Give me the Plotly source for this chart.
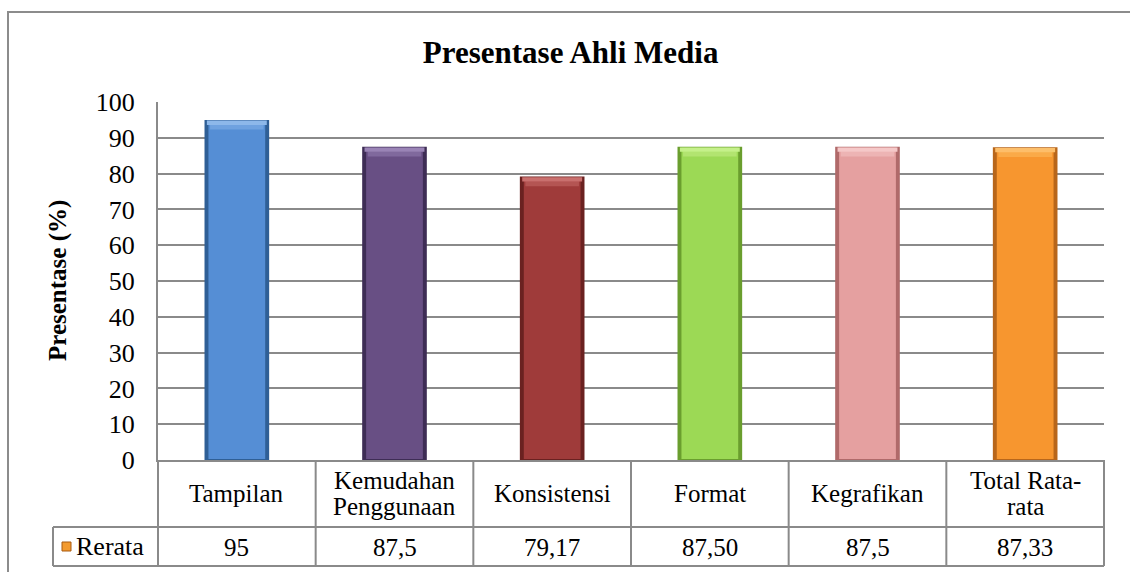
import plotly.graph_objects as go

categories = ["Tampilan", "Kemudahan<br>Penggunaan", "Konsistensi", "Format", "Kegrafikan", "Total Rata-<br>rata"]
values = [95, 87.5, 79.17, 87.5, 87.5, 87.33]
value_labels = ["95", "87,5", "79,17", "87,50", "87,5", "87,33"]
series_name = "Rerata"
bar_colors = ["#558ED5", "#684F84", "#9F3B3A", "#9CD955", "#E5A0A0", "#F7962F"]
edge_colors = ["#2F5F96", "#3E2D55", "#6A2120", "#6A9E2E", "#B06A6A", "#B8661A"]
top_colors = ["#8DB8EA", "#9A84B6", "#C9706E", "#C5F08A", "#F5C8C8", "#FDBE6A"]
mid_colors = ["#6FA2E0", "#80699D", "#B45553", "#B2E470", "#EDB4B4", "#FAAA48"]
y_ticks = [0, 10, 20, 30, 40, 50, 60, 70, 80, 90, 100]

W, H = 1130, 572
L, R, T, B = 158, 1104, 102, 460

def px_x(p):
    return (p - L) / (R - L)

def px_y(p):
    return (B - p) / (B - T)

FONT = "Liberation Serif"
GRID = "#8A8A8A"
n = len(categories)
xs = list(range(n))

fig = go.Figure()
# outer (edge) bar
fig.add_trace(go.Bar(x=xs, y=values, width=0.41, marker=dict(color=edge_colors, line=dict(width=0)),
                     showlegend=False, hoverinfo="skip"))
# inner face
fig.add_trace(go.Bar(x=xs, y=[v - 0.6 for v in values], base=[0.3] * n, width=0.36,
                     marker=dict(color=bar_colors, line=dict(width=0)), name=series_name, showlegend=False))
# top bevel (two tones)
fig.add_trace(go.Bar(x=xs, y=[1.4] * n, base=[v - 2.7 for v in values], width=0.34,
                     marker=dict(color=mid_colors, line=dict(width=0)), showlegend=False, hoverinfo="skip"))
fig.add_trace(go.Bar(x=xs, y=[1.2] * n, base=[v - 1.4 for v in values], width=0.38,
                     marker=dict(color=top_colors, line=dict(width=0)), showlegend=False, hoverinfo="skip"))

shapes = []
row_mid = px_y(527)
row_bot = px_y(566)
leg_left = px_x(53)
for k in range(n + 1):
    shapes.append(dict(type="line", xref="paper", yref="paper", x0=k / n, x1=k / n, y0=0, y1=row_bot,
                       line=dict(color=GRID, width=2)))
shapes.append(dict(type="line", xref="paper", yref="paper", x0=leg_left, x1=1, y0=row_mid, y1=row_mid,
                   line=dict(color=GRID, width=2)))
shapes.append(dict(type="line", xref="paper", yref="paper", x0=leg_left, x1=1, y0=row_bot, y1=row_bot,
                   line=dict(color=GRID, width=2)))
shapes.append(dict(type="line", xref="paper", yref="paper", x0=leg_left, x1=leg_left, y0=row_mid, y1=row_bot,
                   line=dict(color=GRID, width=2)))
shapes.append(dict(type="rect", xref="paper", yref="paper", x0=px_x(8), x1=px_x(1200), y0=px_y(700), y1=px_y(12),
                   line=dict(color="#8C8C8C", width=2), fillcolor="rgba(0,0,0,0)", layer="below"))
shapes.append(dict(type="rect", xref="paper", yref="paper", x0=px_x(62), x1=px_x(71), y0=px_y(551), y1=px_y(542),
                   line=dict(color="#A85A10", width=1), fillcolor="#F39A2E"))

annotations = []
hdr_c = (459 + 527) / 2
for i, c in enumerate(categories):
    lines = c.split("<br>")
    m = len(lines)
    for j, ln in enumerate(lines):
        yc = hdr_c + (j - (m - 1) / 2) * 26
        annotations.append(dict(x=i, xref="x", y=px_y(yc), yref="paper", text=ln, showarrow=False,
                                xanchor="center", yanchor="middle", font=dict(family=FONT, size=25, color="#000")))
for i, t in enumerate(value_labels):
    annotations.append(dict(x=i, xref="x", y=px_y(547), yref="paper", text=t, showarrow=False,
                            xanchor="center", yanchor="middle", font=dict(family=FONT, size=25, color="#000")))
annotations.append(dict(x=px_x(74), xref="paper", y=px_y(546), yref="paper", text=series_name, showarrow=False,
                        xanchor="left", yanchor="middle", font=dict(family=FONT, size=26, color="#000")))
annotations.append(dict(x=px_x(58), xref="paper", y=0.5, yref="paper", text="<b>Presentase (%)</b>",
                        textangle=-90, showarrow=False, xanchor="center", yanchor="middle",
                        font=dict(family=FONT, size=25, color="#000")))

fig.update_layout(
    width=W, height=H,
    margin=dict(l=L, r=W - R, t=T, b=H - B, pad=0),
    paper_bgcolor="white", plot_bgcolor="white",
    barmode="overlay",
    title=dict(text="<b>Presentase Ahli Media</b>", x=0.505, xref="container", xanchor="center",
               y=1 - 52 / H, yref="container", yanchor="middle",
               font=dict(family=FONT, size=31, color="#000")),
    xaxis=dict(range=[-0.5, n - 0.5], showticklabels=False, showgrid=False, zeroline=False,
               showline=True, linecolor=GRID, linewidth=2, ticks=""),
    yaxis=dict(range=[0, 100], tickvals=y_ticks, showgrid=True, gridcolor=GRID, gridwidth=2,
               zeroline=False, showline=True, linecolor=GRID, linewidth=2, ticks="",
               ticklabelstandoff=16, tickfont=dict(family=FONT, size=26, color="#000")),
    shapes=shapes, annotations=annotations,
    showlegend=False,
)

fig.write_html("out.html")
